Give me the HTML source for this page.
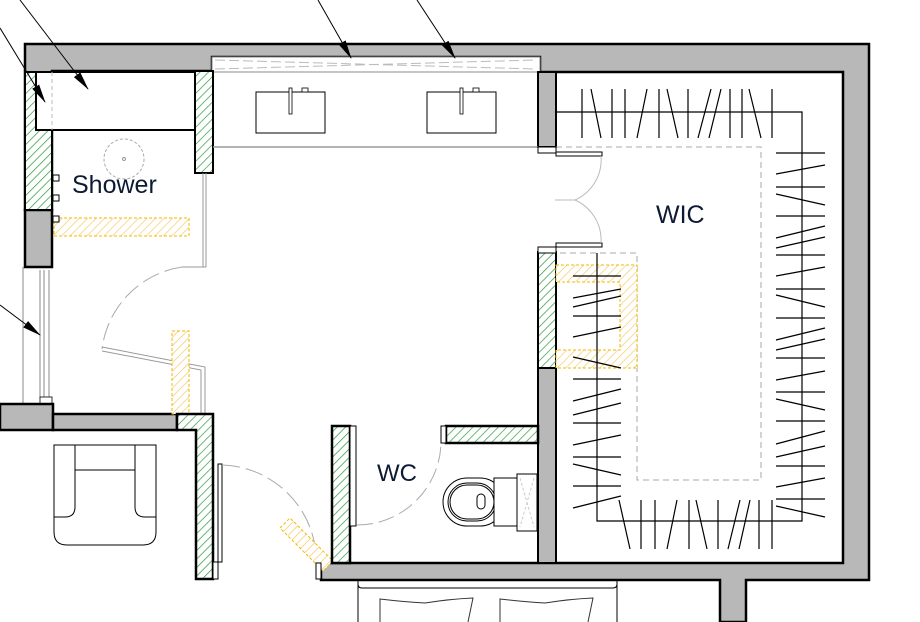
<!DOCTYPE html>
<html><head><meta charset="utf-8"><style>
html,body{margin:0;padding:0;background:#fff;}
svg{display:block;}
text{font-family:"Liberation Sans",sans-serif;fill:#0d1a33;}
</style></head><body>
<svg width="920" height="622" viewBox="0 0 920 622" xmlns="http://www.w3.org/2000/svg">
<defs>
<pattern id="g" width="6" height="6" patternUnits="userSpaceOnUse" patternTransform="rotate(45)">
<rect width="6" height="6" fill="#fff"/><line x1="0" y1="0" x2="0" y2="6" stroke="#2a9a3c" stroke-width="1.4"/></pattern>
<pattern id="y" width="6" height="6" patternUnits="userSpaceOnUse" patternTransform="rotate(45)">
<rect width="6" height="6" fill="#fff"/><line x1="0" y1="0" x2="0" y2="6" stroke="#f5c04a" stroke-width="1.2"/></pattern>
<marker id="ah" markerWidth="20" markerHeight="10" refX="18" refY="5" orient="auto" markerUnits="userSpaceOnUse">
<path d="M0,1 L19,5 L0,9 Z" fill="#000"/></marker>
</defs>

<path d="M25,44 H869 V580 H746 V622 H720 V580 H321 V563 H843 V72 H540 V57 H212 V71 H52 V210 H25 Z" fill="#b8b8b8" stroke="#000" stroke-width="2.5"/>
<rect x="25" y="210" width="27" height="57" fill="#b8b8b8" stroke="#000" stroke-width="2.5"/>
<rect x="212" y="57" width="328" height="15" fill="#fff" stroke="#888" stroke-width="1"/>
<path d="M215,60 L535,69 M215,69 L535,60" stroke="#bbb" stroke-dasharray="10,4" fill="none"/>
<rect x="538" y="72" width="18" height="75" fill="#b8b8b8" stroke="#000" stroke-width="2"/>
<rect x="538" y="368" width="18" height="195" fill="#b8b8b8" stroke="#000" stroke-width="2"/>
<rect x="538" y="252" width="18" height="116" fill="url(#g)" stroke="#000" stroke-width="2"/>

<rect x="25" y="72" width="27" height="138" fill="url(#g)" stroke="#000" stroke-width="2"/>
<rect x="36" y="72" width="160" height="58" fill="#fff" stroke="#000" stroke-width="2"/>
<line x1="52" y1="72" x2="52" y2="130" stroke="#bbb" stroke-dasharray="4,3"/>
<rect x="195" y="71" width="18" height="102" fill="url(#g)" stroke="#000" stroke-width="2"/>

<line x1="213" y1="147" x2="538" y2="147" stroke="#999" stroke-width="1.5"/>
<rect x="256" y="92" width="69" height="41" fill="#fff" stroke="#000"/>
<rect x="289" y="88" width="3" height="26" fill="#fff" stroke="#000" stroke-width="0.8"/>
<rect x="302" y="88" width="6" height="4" fill="#fff" stroke="#000" stroke-width="0.8"/>
<rect x="427" y="92" width="69" height="41" fill="#fff" stroke="#000"/>
<rect x="460" y="88" width="3" height="26" fill="#fff" stroke="#000" stroke-width="0.8"/>
<rect x="473" y="88" width="6" height="4" fill="#fff" stroke="#000" stroke-width="0.8"/>

<circle cx="124" cy="159" r="20" fill="none" stroke="#aaa" stroke-dasharray="3,2"/>
<circle cx="124" cy="159" r="1.5" fill="none" stroke="#999"/>
<text x="72" y="193" font-size="25">Shower</text>
<rect x="54" y="218" width="135" height="18" fill="url(#y)" stroke="#f5b800" stroke-dasharray="3,2"/>
<rect x="53" y="175" width="6" height="6" fill="#fff" stroke="#000"/>
<rect x="53" y="195" width="6" height="6" fill="#fff" stroke="#000"/>
<rect x="53" y="216" width="6" height="6" fill="#fff" stroke="#000"/>
<path d="M203,173 V267 M206,173 V267 M206,267 H182" stroke="#999" fill="none"/>
<path d="M182,267 A95,95 0 0 0 102,349" stroke="#aaa" fill="none" stroke-dasharray="18,6"/>
<path d="M102,347 L205,367 V414 M102,351 L201,370 V414" stroke="#999" fill="none"/>

<path d="M23,267 V404 M40,270 V398 M44,270 V398 M49,270 V398" stroke="#888" fill="none"/>
<rect x="40" y="397" width="12" height="7" fill="#fff" stroke="#000" stroke-width="0.8"/>
<rect x="0" y="404" width="53" height="26" fill="#b8b8b8" stroke="#000" stroke-width="2.5"/>
<rect x="53" y="414" width="124" height="16" fill="#b8b8b8" stroke="#000" stroke-width="2.5"/>
<rect x="172" y="331" width="17" height="83" fill="url(#y)" stroke="#f5b800" stroke-dasharray="3,2"/>
<path d="M177,414 H213 V579 H196 V430 H177 Z" fill="url(#g)" stroke="#000" stroke-width="2.5"/>

<path d="M54,445 H156 V532 Q156,545 143,545 H67 Q54,545 54,532 Z" fill="#fff" stroke="#000"/>
<path d="M75,445 V507 Q75,517 65,517 H54 M135,445 V507 Q135,517 145,517 H156 M75,470 H135" stroke="#000" fill="none"/>

<rect x="218" y="464" width="4" height="98" fill="#fff" stroke="#000"/>
<rect x="213" y="562" width="5" height="17" fill="#fff" stroke="#000"/>
<path d="M222,465 A97,97 0 0 1 316,570" stroke="#aaa" fill="none" stroke-dasharray="18,6"/>
<path d="M280,528 L290,518 L333,561 L323,571 Z" fill="url(#y)" stroke="#f5b800" stroke-dasharray="3,2"/>
<rect x="316" y="563" width="5" height="16" fill="#fff" stroke="#000"/>

<rect x="332" y="426" width="18" height="137" fill="url(#g)" stroke="#000" stroke-width="2.5"/>
<rect x="350" y="426" width="6" height="100" fill="#fff" stroke="#000"/>
<rect x="446" y="426" width="92" height="17" fill="url(#g)" stroke="#000" stroke-width="2.5"/>
<rect x="441" y="426" width="5" height="17" fill="#fff" stroke="#000"/>
<path d="M357,525 A84,84 0 0 0 441,443" stroke="#aaa" fill="none" stroke-dasharray="16,6"/>
<text x="377" y="481" font-size="24">WC</text>
<rect x="443" y="478" width="61" height="48" rx="24" fill="#fff" stroke="#000"/>
<rect x="448" y="483" width="48" height="38" rx="19" fill="none" stroke="#000"/>
<rect x="450" y="485" width="44" height="34" rx="17" fill="none" stroke="#000"/>
<rect x="477" y="494" width="8" height="15" rx="4" fill="none" stroke="#000"/>
<rect x="494" y="478" width="23" height="48" fill="#fff" stroke="#000"/>
<rect x="517" y="474" width="20" height="57" fill="#fff" stroke="#000"/>
<path d="M520,478 L534,527 M534,478 L520,527" stroke="#ccc" stroke-dasharray="3,2"/>

<path d="M556,147 H761 V480 H637 V253 H556" fill="none" stroke="#bbb" stroke-dasharray="6,4" stroke-width="1.3"/>
<path d="M556,265 H637 V368 H556 V350 H620 V282 H556 Z" fill="url(#y)" stroke="#f5b800" stroke-dasharray="3,2"/>
<rect x="538" y="147" width="18" height="6" fill="#fff" stroke="#000"/>
<rect x="556" y="152" width="46" height="4" fill="#fff" stroke="#000"/>
<rect x="538" y="247" width="18" height="6" fill="#fff" stroke="#000"/>
<rect x="556" y="243" width="46" height="4" fill="#fff" stroke="#000"/>
<path d="M601,156 A44,44 0 0 1 575,200 A44,44 0 0 1 601,243 M575,200 H555" fill="none" stroke="#bbb"/>
<text x="656" y="223" font-size="25">WIC</text>

<g stroke="#000" stroke-width="1.2" fill="none">
<path d="M556,112 H802 V521 H597 V253"/>
<path d="M582,89V138 M612,89V138 M625,89V138 M659,89V138 M688,89V138 M730,89V138 M742,89V138 M772,89V138 M591,89L601,138 M647,89L637,138 M667,89L678,138 M711,89L698,138 M721,89L709,138 M749,89L761,138"/>
<path d="M776,153H825 M776,187H825 M776,216H825 M776,255H825 M776,289H825 M776,318H825 M776,358H825 M776,392H825 M776,421H825 M776,466H825 M776,499H825
M776,174L825,165 M776,194L825,205 M776,238L825,226 M776,248L825,237 M776,276L825,267 M776,295L825,307 M776,340L825,328 M776,350L825,339 M776,380L825,371 M776,399L825,410 M776,444L825,431 M776,457L825,446 M776,487L825,478 M776,506L825,517"/>
<path d="M573,276H621 M573,316H621 M573,379H621 M573,423H621 M573,457H621 M573,486H621
M573,298L621,289 M573,307L621,296 M573,337L621,327 M573,357L621,368 M573,401L621,389 M573,415L621,403 M573,445L621,435 M573,464L621,475 M573,508L621,496"/>
<path d="M641,500V549 M655,500V549 M689,500V549 M718,500V549 M759,500V549 M772,500V549 M619,500L630,549 M677,500L667,549 M696,500L707,549 M740,500L728,549 M750,500L739,549"/>
</g>

<path d="M358,580 V622 M617,580 V622 M358,584 Q358,588 362,588 H613 Q617,588 617,584" stroke="#000" fill="none"/>
<path d="M380,622 L380,599 Q405,602 425,603 Q450,599 473,598 L468,622 M500,622 L500,599 Q525,602 545,603 Q570,599 593,598 L588,622" stroke="#333" fill="none"/>

<g stroke="#000" stroke-width="1" marker-end="url(#ah)">
<line x1="0" y1="28" x2="45" y2="102"/>
<line x1="20" y1="0" x2="88" y2="89"/>
<line x1="318" y1="0" x2="351" y2="58"/>
<line x1="417" y1="0" x2="455" y2="58"/>
<line x1="0" y1="305" x2="40" y2="335"/>
</g>
</svg>
</body></html>
